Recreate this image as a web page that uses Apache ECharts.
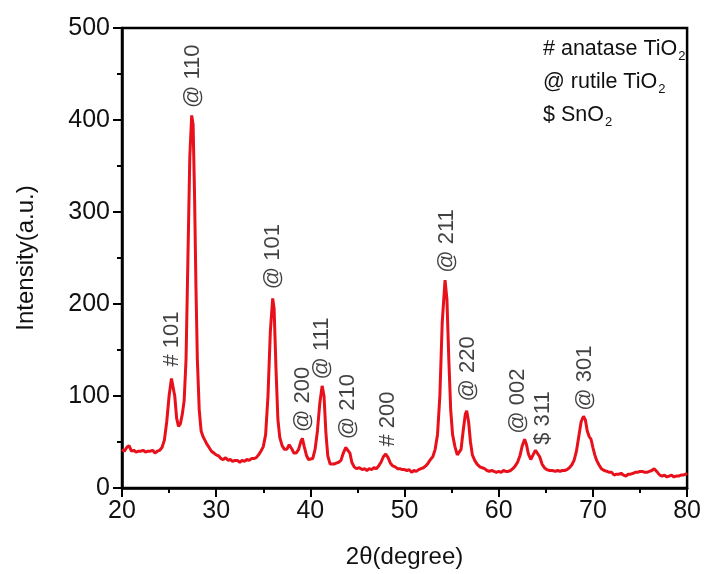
<!DOCTYPE html>
<html>
<head>
<meta charset="utf-8">
<script src="https://cdn.jsdelivr.net/npm/echarts@6/dist/echarts.min.js"></script>
<style>
  html, body { margin: 0; padding: 0; background: #fff; }
  #xrd { width: 704px; height: 574px; }
</style>
</head>
<body>
<div id="xrd"></div>
<script>
// 2theta (degree) and intensity
const twoTheta = [
  20.0, 20.25, 20.5, 20.75, 21.0, 21.25, 21.5, 21.75, 22.0, 22.25, 22.5, 22.75,
  23.0, 23.25, 23.5, 23.75, 24.0, 24.25, 24.5, 24.75, 25.0, 25.25, 25.4, 25.6,
  25.8, 26.0, 26.2, 26.4, 26.6, 26.8, 27.0, 27.2, 27.4, 27.55, 27.7, 27.85,
  28.0, 28.2, 28.4, 28.6, 28.8, 29.0, 29.25, 29.5, 29.75, 30.0, 30.25, 30.5,
  30.75, 31.0, 31.25, 31.5, 31.75, 32.0, 32.25, 32.5, 32.75, 33.0, 33.25, 33.5,
  33.75, 34.0, 34.25, 34.5, 34.75, 35.0, 35.25, 35.5, 35.75, 36.0, 36.15, 36.35,
  36.55, 36.75, 37.0, 37.25, 37.5, 37.75, 38.0, 38.25, 38.5, 38.75, 39.0, 39.15,
  39.35, 39.6, 39.8, 40.0, 40.25, 40.5, 40.75, 41.0, 41.25, 41.45, 41.65, 41.85,
  42.1, 42.3, 42.5, 42.75, 43.0, 43.25, 43.5, 43.75, 43.95, 44.2, 44.4, 44.65,
  44.9, 45.2, 45.5, 45.75, 46.0, 46.25, 46.5, 46.75, 47.0, 47.25, 47.5, 47.75,
  48.0, 48.25, 48.5, 48.75, 49.0, 49.25, 49.5, 49.75, 50.0, 50.25, 50.5, 50.75,
  51.0, 51.25, 51.5, 51.75, 52.0, 52.25, 52.5, 52.75, 53.0, 53.25, 53.5, 53.75,
  54.0, 54.3, 54.5, 54.7, 54.9, 55.1, 55.35, 55.6, 55.8, 56.0, 56.2, 56.45,
  56.6, 56.8, 57.0, 57.2, 57.45, 57.7, 58.0, 58.25, 58.5, 58.75, 59.0, 59.25,
  59.5, 59.75, 60.0, 60.25, 60.5, 60.75, 61.0, 61.25, 61.5, 61.75, 62.0, 62.25,
  62.5, 62.75, 62.95, 63.15, 63.4, 63.65, 63.9, 64.1, 64.35, 64.6, 64.85, 65.1,
  65.4, 65.7, 66.0, 66.25, 66.5, 66.75, 67.0, 67.25, 67.5, 67.75, 68.0, 68.25,
  68.5, 68.75, 69.0, 69.2, 69.4, 69.6, 69.8, 70.0, 70.2, 70.4, 70.65, 70.9,
  71.2, 71.5, 71.75, 72.0, 72.25, 72.5, 72.75, 73.0, 73.25, 73.5, 73.75, 74.0,
  74.25, 74.5, 74.75, 75.0, 75.25, 75.5, 75.75, 76.0, 76.25, 76.5, 76.65, 76.85,
  77.1, 77.35, 77.6, 77.85, 78.1, 78.35, 78.6, 78.85, 79.1, 79.35, 79.6, 79.85,
  80.0
]
const intensity = [
  42, 40, 44, 46, 40, 41, 39, 40, 40, 41, 39, 40,
  40, 41, 38, 40, 41, 44, 52, 72, 100, 119, 117, 100,
  76, 67, 70, 80, 95, 140, 250, 360, 405, 395, 320, 220,
  140, 85, 62, 56, 52, 48, 44, 40, 38, 36, 35, 32,
  31, 33, 30, 31, 29, 30, 30, 28, 30, 29, 31, 30,
  32, 32, 33, 36, 40, 45, 58, 100, 170, 206, 195, 130,
  75, 55, 46, 42, 42, 47, 43, 38, 38, 42, 51, 54,
  45, 35, 31, 30, 32, 42, 62, 92, 111, 100, 60, 35,
  26, 25, 26, 27, 28, 30, 38, 44, 46, 38, 28, 23,
  21, 22, 20, 21, 19, 21, 20, 22, 21, 24, 28, 34,
  37, 33, 27, 24, 23, 21, 21, 20, 20, 19, 20, 17,
  19, 18, 20, 21, 22, 24, 27, 31, 34, 42, 58, 100,
  180, 226, 205, 140, 85, 58, 45, 36, 34, 42, 60, 80,
  84, 72, 50, 36, 30, 26, 23, 22, 21, 19, 18, 19,
  18, 17, 18, 17, 19, 18, 18, 19, 21, 24, 28, 35,
  46, 53, 47, 37, 31, 36, 41, 41, 34, 26, 22, 20,
  19, 19, 18, 19, 18, 19, 19, 20, 22, 25, 30, 40,
  56, 72, 78, 74, 62, 56, 53, 44, 36, 30, 25, 21,
  19, 18, 17, 17, 14, 15, 15, 16, 14, 13, 15, 15,
  16, 17, 17, 18, 18, 17, 17, 18, 19, 21, 23, 17,
  14, 13, 14, 12, 13, 14, 12, 13, 13, 14, 14, 15,
  16
]

// peak annotations: where the (vertical) text starts
const peakNames = ['# 101', '@ 110', '@ 101', '@ 200', '@ 111', '@ 210', '# 200', '@ 211', '@ 220', '@ 002', '$ 311', '@ 301']
const peakX = [25.33, 27.55, 36.0, 39.2, 41.28, 44.0, 48.25, 54.5, 56.76, 62.08, 64.68, 69.16]
const peakY = [132, 413, 216, 61, 118, 53, 45, 234, 94, 59, 47, 84]

const xTicks = { min: 20, max: 80, step: 10 }
const yTicks = { min: 0, max: 500, step: 100 }

const legendLines = ['# anatase TiO{s|2}', '@ rutile TiO{s|2}', '$ SnO{s|2}']

const font = 'Liberation Sans, Arial, sans-serif'
const ink = '#111'
const chart = echarts.init(document.getElementById('xrd'))

const axisCommon = {
  axisLine: { lineStyle: { color: '#000', width: 2.5 } },
  axisTick: { inside: false, length: 9, lineStyle: { color: '#000', width: 2 } },
  minorTick: { show: true, splitNumber: 2, length: 5, lineStyle: { color: '#000', width: 2 } },
  splitLine: { show: false },
  nameLocation: 'middle',
  nameTextStyle: { fontFamily: font, fontSize: 24, color: ink }
}

chart.setOption({
  animation: false,
  backgroundColor: '#fff',
  grid: { left: 122, right: 13, top: 28, bottom: 82, show: true, borderColor: '#000', borderWidth: 2.5 },
  xAxis: Object.assign({}, axisCommon, {
    type: 'value',
    min: xTicks.min, max: xTicks.max, interval: xTicks.step,
    name: '2θ(degree)',
    nameGap: 57,
    axisLabel: { fontFamily: font, fontSize: 25, color: ink, margin: 11 }
  }),
  yAxis: Object.assign({}, axisCommon, {
    type: 'value',
    min: yTicks.min, max: yTicks.max, interval: yTicks.step,
    name: 'Intensity(a.u.)',
    nameGap: 84,
    axisLabel: { fontFamily: font, fontSize: 25, color: ink, margin: 12 }
  }),
  graphic: legendLines.map((t, i) => ({
    type: 'text',
    left: 543,
    top: 38 + i * 33,
    style: {
      text: t,
      fontFamily: font,
      fontSize: 21.5,
      fill: ink,
      rich: { s: { fontFamily: font, fontSize: 13, fill: ink, padding: [15, 0, 0, 1] } }
    }
  })),
  series: [
    {
      name: 'XRD',
      type: 'line',
      showSymbol: false,
      symbol: 'none',
      smooth: false,
      lineStyle: { color: '#e8101a', width: 3 },
      data: twoTheta.map((x, i) => [x, intensity[i]])
    },
    {
      name: 'peaks',
      type: 'scatter',
      silent: true,
      symbolSize: 0,
      label: {
        show: true,
        formatter: '{b}',
        rotate: 90,
        position: [0, 0],
        align: 'left',
        verticalAlign: 'middle',
        fontFamily: font,
        fontSize: 22,
        color: ink
      },
      data: peakX.map((x, i) => ({ name: peakNames[i], value: [x, peakY[i]] }))
    }
  ]
})
</script>
</body>
</html>
